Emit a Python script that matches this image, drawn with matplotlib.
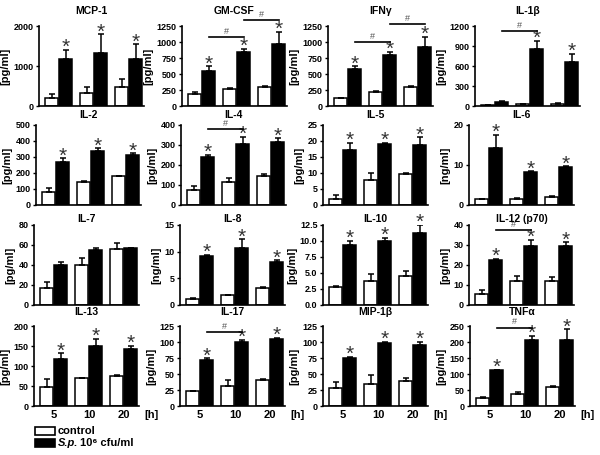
import matplotlib
matplotlib.use('Agg')
import matplotlib.pyplot as plt
import numpy as np

plt.rcParams['font.family'] = ['Liberation Sans', 'DejaVu Sans']
plt.rcParams['font.weight'] = 'bold'

# ---------------- data ----------------
time_labels = ['5', '10', '20']

panel_titles = ['MCP-1', 'GM-CSF', 'IFNγ', 'IL-1β',
                'IL-2', 'IL-4', 'IL-5', 'IL-6',
                'IL-7', 'IL-8', 'IL-10', 'IL-12 (p70)',
                'IL-13', 'IL-17', 'MIP-1β', 'TNFα']
panel_units = ['[pg/ml]', '[pg/ml]', '[pg/ml]', '[pg/ml]',
               '[pg/ml]', '[pg/ml]', '[pg/ml]', '[ng/ml]',
               '[pg/ml]', '[ng/ml]', '[pg/ml]', '[pg/ml]',
               '[pg/ml]', '[pg/ml]', '[pg/ml]', '[pg/ml]']
y_max = [2000, 1250, 1250, 1200,
         500, 400, 25, 20,
         80, 15, 12.5, 40,
         200, 125, 125, 250]
y_step = [1000, 250, 250, 300,
          100, 100, 5, 10,
          20, 5, 2.5, 10,
          50, 25, 25, 50]

control_mean = [[200, 330, 470], [180, 265, 300], [125, 215, 290], [10, 25, 30],
                [83, 142, 180], [75, 113, 147], [1.9, 7.9, 9.7], [1.4, 1.6, 2.0],
                [17, 40, 56], [1.2, 1.8, 3.2], [2.8, 3.7, 4.6], [5.7, 12, 12],
                [47, 69, 76], [23, 31, 40], [28, 35, 39], [24, 38, 60]]
control_err = [[90, 140, 200], [45, 10, 15], [5, 20, 30], [3, 5, 10],
               [25, 8, 2], [20, 24, 6], [1.3, 2.1, 0.2], [0.1, 0.2, 0.3],
               [5.6, 7, 6.2], [0.1, 0.1, 0.15], [0.15, 1.2, 0.7], [1.7, 2.3, 2.0],
               [20, 2, 2], [1, 10, 1.5], [9, 14, 5], [5, 6, 3]]
sp_mean = [[1175, 1330, 1180], [540, 850, 970], [585, 800, 920], [60, 850, 660],
           [267, 338, 312], [240, 305, 313], [17.3, 19.1, 18.9], [14.3, 8.2, 9.4],
           [40, 55, 57], [9.1, 10.7, 8.1], [9.3, 10.0, 11.3], [22.6, 29.7, 29.3],
           [118, 150, 143], [72, 100, 104], [75, 98, 96], [111, 205, 205]]
sp_err = [[225, 460, 360], [80, 40, 190], [35, 45, 160], [10, 125, 120],
          [25, 16, 11], [10, 37, 20], [2.1, 0.3, 2.3], [3.3, 0.2, 0.3],
          [3.4, 1.7, 0.3], [0.3, 1.6, 0.3], [0.7, 0.5, 1.2], [0.4, 2.8, 2.1],
          [14, 18, 7], [2.6, 3, 3], [2, 2, 4], [3, 15, 35]]
# which S.p. bars carry a significance star (1 = yes)
sp_star = [[1, 1, 1], [1, 1, 1], [1, 1, 1], [0, 1, 1],
           [1, 1, 1], [1, 1, 1], [1, 1, 1], [1, 1, 1],
           [0, 0, 0], [1, 1, 1], [1, 1, 1], [1, 1, 1],
           [1, 1, 1], [1, 1, 1], [1, 1, 1], [1, 1, 1]]
# '#' brackets: (panel, from group, to group, height)
bracket_panel = [1, 1, 2, 2, 3, 5, 11, 13, 15]
bracket_from = [0, 1, 0, 1, 0, 0, 0, 0, 0]
bracket_to = [1, 2, 1, 2, 1, 1, 1, 1, 1]
bracket_y = [1080, 1340, 1000, 1280, 1125, 380, 37.5, 115, 245]

# ---------------- layout ----------------
W, H = 600, 455
fig = plt.figure(figsize=(6.0, 4.55), dpi=100)

row_tops = [26, 125, 225, 326]
row_lefts = [[39, 182, 328, 475], [36, 181, 323, 469],
             [34, 180, 323, 469], [34, 180, 323, 470]]
ax_w, ax_h = 105, 80
title_pad = [9, 5, 2.5, 8]

groups = np.arange(3)
off = 0.2
bw = 0.37

for i in range(16):
    r, c = divmod(i, 4)
    left = row_lefts[r][c]
    top = row_tops[r]
    ax = fig.add_axes([left / W, 1 - (top + ax_h) / H, ax_w / W, ax_h / H])
    ax.bar(groups - off, control_mean[i], width=bw, color='white',
           edgecolor='black', linewidth=1.1, zorder=2)
    ax.bar(groups + off, sp_mean[i], width=bw, color='black',
           edgecolor='black', linewidth=1.1, zorder=2)
    ax.errorbar(groups - off, control_mean[i],
                yerr=[np.zeros(3), control_err[i]], fmt='none', ecolor='black',
                elinewidth=1.1, capsize=2.5, capthick=1.1, zorder=3)
    ax.errorbar(groups + off, sp_mean[i],
                yerr=[np.zeros(3), sp_err[i]], fmt='none', ecolor='black',
                elinewidth=1.1, capsize=2.5, capthick=1.1, zorder=3)
    for g in range(3):
        if sp_star[i][g]:
            ax.annotate('*', (g + off, sp_mean[i][g] + sp_err[i][g]),
                        xytext=(0, -2.3), textcoords='offset points',
                        ha='center', va='baseline', fontsize=15,
                        color='#333333', fontweight='normal',
                        annotation_clip=False)
    ax.set_xlim(-0.57, 2.43)
    ax.set_ylim(0, y_max[i])
    ax.set_yticks(np.arange(0, y_max[i] + y_step[i] / 2, y_step[i]))
    if y_step[i] == 2.5:
        ax.set_yticklabels(['%.1f' % v for v in ax.get_yticks()])
    ax.spines['top'].set_visible(False)
    ax.spines['right'].set_visible(False)
    ax.spines['left'].set_linewidth(1.2)
    ax.spines['bottom'].set_linewidth(1.2)
    ax.tick_params(axis='y', length=2.5, width=1.0, pad=1.5, labelsize=6.5)
    ax.set_xticks(groups)
    if r == 3:
        ax.set_xticklabels(time_labels, fontsize=8)
        ax.tick_params(axis='x', length=0, pad=3)
        ax.annotate('[h]', xy=(1.0, 0), xycoords='axes fraction',
                    xytext=(4, -3), textcoords='offset points',
                    ha='left', va='top', fontsize=8)
    else:
        ax.set_xticklabels([])
        ax.tick_params(axis='x', length=0)
    ax.set_ylabel(panel_units[i], fontsize=8, fontweight='bold', labelpad=2)
    ax.set_title(panel_titles[i], fontsize=7.5, fontweight='bold',
                 pad=title_pad[r])
    for b in range(len(bracket_panel)):
        if bracket_panel[b] == i:
            x0 = bracket_from[b] + off
            x1 = bracket_to[b] + off
            yb = bracket_y[b]
            ax.plot([x0, x1], [yb, yb], color='black', lw=1.2,
                    clip_on=False, zorder=4)
            ax.annotate('#', ((x0 + x1) / 2, yb), xytext=(0, 0.8),
                        textcoords='offset points', ha='center', va='bottom',
                        fontsize=6.5, color='#555555', fontweight='normal',
                        annotation_clip=False)

# ---------------- legend ----------------
from matplotlib.patches import Rectangle
fig.patches.append(Rectangle((35 / W, 1 - 435 / H), 20 / W, 8 / H,
                             transform=fig.transFigure, facecolor='white',
                             edgecolor='black', linewidth=1.2))
fig.patches.append(Rectangle((35 / W, 1 - 447 / H), 20 / W, 8 / H,
                             transform=fig.transFigure, facecolor='black',
                             edgecolor='black', linewidth=1.2))
fig.text(58 / W, 1 - 431 / H, 'control', fontsize=8, va='center', ha='left')
t1 = fig.text(58 / W, 1 - 443 / H, 'S.p.', fontsize=8, va='center',
              ha='left', style='italic')
fig.canvas.draw()
bb = t1.get_window_extent()
fig.text(bb.x1 / W + 2 / W, 1 - 443 / H, '10⁶ cfu/ml', fontsize=8,
         va='center', ha='left')

fig.savefig('out.png', dpi=100)
